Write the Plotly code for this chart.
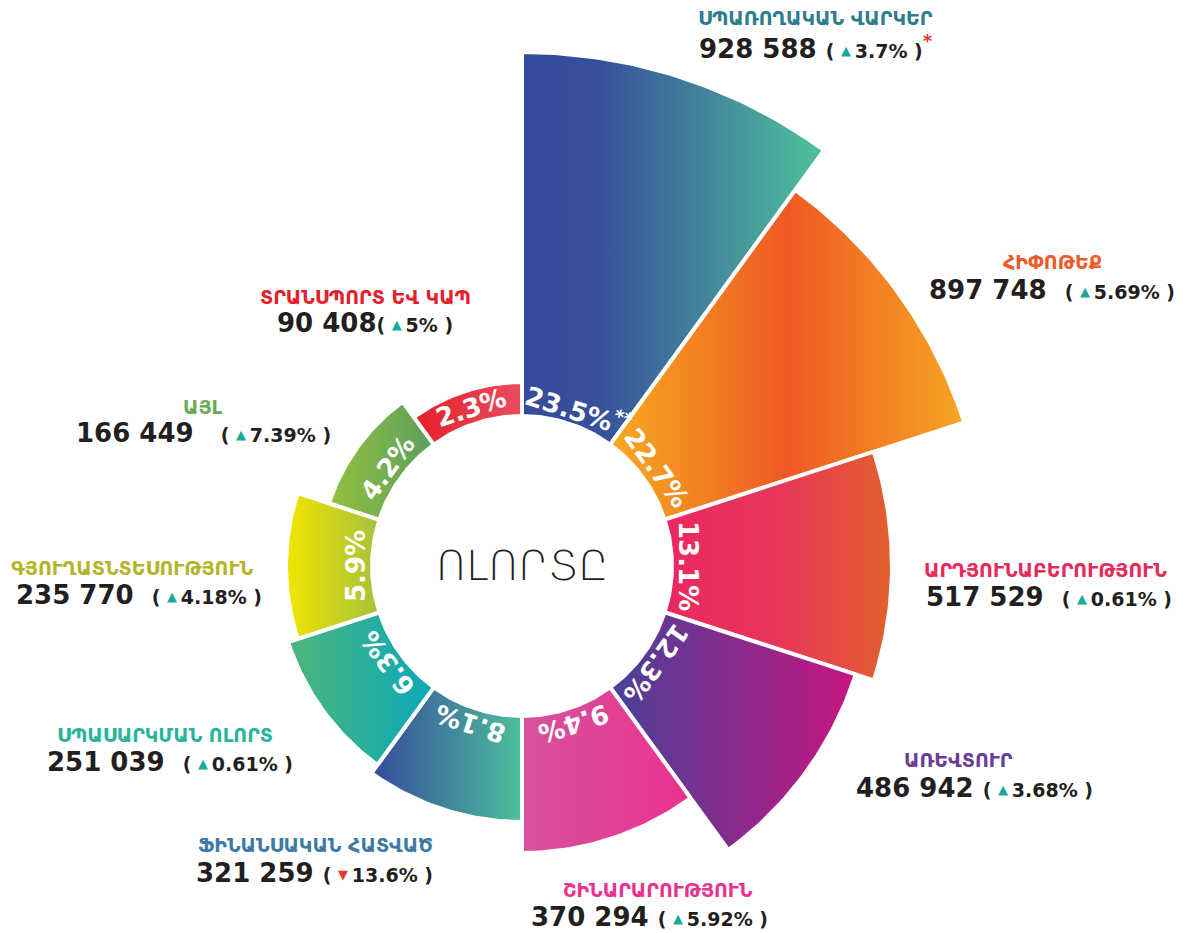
import numpy as np
import plotly.graph_objects as go

# ---------------- data ----------------
sectors = ["ՍՊԱՌՈՂԱԿԱՆ ՎԱՐԿԵՐ", "ՀԻՓՈԹԵՔ", "ԱՐԴՅՈՒՆԱԲԵՐՈՒԹՅՈՒՆ", "ԱՌԵՎՏՈՒՐ",
           "ՇԻՆԱՐԱՐՈՒԹՅՈՒՆ", "ՖԻՆԱՆՍԱԿԱՆ ՀԱՏՎԱԾ", "ՍՊԱՍԱՐԿՄԱՆ ՈԼՈՐՏ",
           "ԳՅՈՒՂԱՏՆՏԵՍՈՒԹՅՈՒՆ", "ԱՅԼ", "ՏՐԱՆՍՊՈՐՏ ԵՎ ԿԱՊ"]
amounts = [928588, 897748, 517529, 486942, 370294, 321259, 251039, 235770, 166449, 90408]
shares = [23.5, 22.7, 13.1, 12.3, 9.4, 8.1, 6.3, 5.9, 4.2, 2.3]
growth = [3.7, 5.69, 0.61, 3.68, 5.92, -13.6, 0.61, 4.18, 7.39, 5]
# radial bar length (beyond the hole) as drawn in the picture
bar_length = [364, 315, 220, 201, 137, 106, 96, 86, 53, 34]
center_label = "ՈԼՈՐՏԸ"

# ---------------- styles ----------------
HOLE = 150
gradients = [
    [[0, "#354a9c"], [0.25, "#374f9b"], [1, "#4fc29b"]],
    [[0, "#f7ab20"], [0.5, "#ee5924"], [1, "#f7a623"]],
    [[0, "#ea2861"], [0.5, "#e8355a"], [1, "#e3602c"]],
    [[0, "#4a4198"], [0.4, "#7a2f8e"], [1, "#c8167f"]],
    [[0, "#d6529c"], [1, "#eb3190"]],
    [[0, "#364a9c"], [1, "#4dbf9b"]],
    [[0, "#4db67a"], [1, "#0ba8b9"]],
    [[0, "#f2e500"], [1, "#a5c23c"]],
    [[0, "#92c13f"], [1, "#5c9f5e"]],
    [[0, "#e42129"], [1, "#ec4b62"]],
]
title_colors = ["#2e7d8c", "#ef5a2a", "#e52a5c", "#6a3d98", "#e8338f",
                "#3f79a6", "#2ab59a", "#b5b52c", "#6aab55", "#e4202b"]
# label positions in screen pixels (title x, title y, number x, number y)
label_pos = [(815, 18, 816, 47), (1052, 262, 1052, 290), (1045, 570, 1049, 597),
             (958, 760, 974, 788), (658, 890, 649, 917), (315, 845, 314, 873),
             (165, 735, 170, 762), (132, 568, 139, 595), (203, 407, 203, 433),
             (365, 297, 365, 323)]
num_gap = ["\u00a0", "\u00a0\u00a0", "\u00a0\u00a0", "\u00a0", "\u00a0", "\u00a0",
           "\u00a0\u00a0", "\u00a0\u00a0", "\u00a0\u00a0\u00a0", ""]
pct_angle_shift = [2, 0, 0, 0, 0, 0, 0, 0, 0, 0]
PAGE = 8                      # default body margin of the html page
CX, CY = 522 - PAGE, 566 - PAGE  # centre in figure pixels
W, H = 1183, 933

fig = go.Figure()
n = len(amounts)
step = 360.0 / n
for i in range(n):
    a0, a1 = i * step, (i + 1) * step
    ang = np.radians(np.linspace(a0, a1, 60))
    r_out = HOLE + bar_length[i]
    xs = np.concatenate([r_out * np.sin(ang), HOLE * np.sin(ang[::-1])])
    ys = np.concatenate([r_out * np.cos(ang), HOLE * np.cos(ang[::-1])])
    xs = np.append(xs, xs[0])
    ys = np.append(ys, ys[0])
    fig.add_trace(go.Scatter(
        x=xs, y=ys, mode="lines", fill="toself",
        fillgradient=dict(type="horizontal", colorscale=gradients[i]),
        line=dict(color="white", width=4),
        hoverinfo="text", text=f"{sectors[i]}: {amounts[i]}",
        showlegend=False))

NUMFONT = "DejaVu Sans"
annotations = []
for i in range(n):
    mid = (i + 0.5) * step
    pos = mid + pct_angle_shift[i]
    r = 166
    ta = mid if mid <= 180 else mid - 360
    txt = f"{shares[i]}%" + ("<sup>**</sup>" if i == 0 else "")
    annotations.append(dict(
        x=r * np.sin(np.radians(pos)), y=r * np.cos(np.radians(pos)),
        text=txt, textangle=ta, showarrow=False, xanchor="center", yanchor="middle",
        font=dict(family=NUMFONT, size=26, color="white", weight=700)))

    tx, ty, nx, ny = label_pos[i]
    annotations.append(dict(
        x=tx - PAGE - CX, y=CY - (ty - PAGE), text=sectors[i], showarrow=False,
        xanchor="center", yanchor="middle",
        font=dict(family="DejaVu Sans", size=19, color=title_colors[i], weight=700)))

    amt = f"{amounts[i]:,}".replace(",", " ")
    g = growth[i]
    tri_style = "font-size:13px;baseline-shift:3px"
    tri = (f"<span style='color:#1aa89a;{tri_style}'>▲</span>" if g >= 0
           else f"<span style='color:#e8392b;{tri_style}'>▼</span>")
    star = "<span style='color:#e8392b'><sup>*</sup></span>" if i == 0 else ""
    num_txt = (f"{amt}{num_gap[i]}<span style='font-size:19px'>(\u00a0{tri}\u2009"
               f"{abs(g):g}%\u00a0)</span>{star}")
    annotations.append(dict(
        x=nx - PAGE - CX, y=CY - (ny - PAGE), text=num_txt, showarrow=False,
        xanchor="center", yanchor="middle",
        font=dict(family=NUMFONT, size=26, color="#231f20", weight=700)))

annotations.append(dict(
    x=0, y=0, text=center_label, showarrow=False, xanchor="center", yanchor="middle",
    font=dict(family="DejaVu Sans", size=41, color="#231f20", weight=200)))

fig.update_layout(
    width=W, height=H, margin=dict(l=0, r=0, t=0, b=0),
    paper_bgcolor="white", plot_bgcolor="white",
    xaxis=dict(range=[-CX, W - CX], visible=False, fixedrange=True),
    yaxis=dict(range=[CY - H, CY], visible=False, fixedrange=True),
    annotations=annotations, showlegend=False)

fig.write_html("out.html")
